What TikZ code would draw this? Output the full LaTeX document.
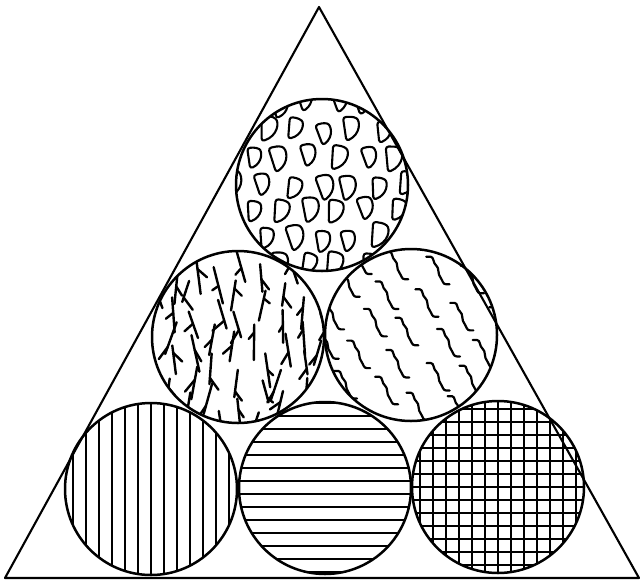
\documentclass[tikz,border=0pt]{standalone}
\usetikzlibrary{calc}
\begin{document}
\begin{tikzpicture}[x=1pt,y=-1pt,line join=round,line cap=round,
  outline/.style={line width=2.5pt},
  tri/.style={line width=2.1pt},
  dshape/.style={line width=2.1pt,rounded corners=3pt},
  crack/.style={line width=2.4pt},
  squig/.style={line width=2.2pt},
  hatch/.style={line width=2.3pt}]
\useasboundingbox (0,0) rectangle (642,584);
\coordinate (A) at (319,7);
\coordinate (B) at (5,578);
\coordinate (C) at (639,578);
\def\R{86}
\coordinate (T) at (322,185);
\coordinate (ML) at (238,337);
\coordinate (MR) at (411,335);
\coordinate (BL) at (151,489);
\coordinate (BC) at (325,488);
\coordinate (BR) at (498,487);
\pgfmathsetseed{12}
% ---- top circle: D shapes
\begin{scope}
\clip (T) circle (\R);
\foreach \i in {-4,...,4}{
 \foreach \j in {-4,...,4}{
  \pgfmathsetmacro\px{322+\i*29+abs(mod(\j,2))*14.5+rand*4}
  \pgfmathsetmacro\py{185+\j*27+rand*4}
  \pgfmathsetmacro\rot{rand*15}
  \pgfmathsetmacro\sc{1.15+rnd*0.3}
  \begin{scope}[shift={(\px,\py)},rotate=\rot,scale=\sc]
   \draw[dshape] (-5,-9) -- (3,-9) .. controls (8,-6) and (8,4) .. (-3,9) -- cycle;
  \end{scope}
 }}
\end{scope}
% ---- middle left: cracks
\begin{scope}
\clip (ML) circle (\R);
\foreach \i in {-4,...,4}{
 \foreach \j in {-3,...,3}{
  \pgfmathsetmacro\px{238+\i*22+rand*6}
  \pgfmathsetmacro\py{337+\j*28+abs(mod(\i,2))*14+rand*6}
  \pgfmathsetmacro\ang{90+rand*20}
  \pgfmathsetmacro\len{22+rnd*16}
  \pgfmathsetmacro\bang{rnd>0.5 ? 35+rnd*25 : 120+rnd*25}
  \pgfmathsetmacro\blen{7+rnd*9}
  \pgfmathsetmacro\bpos{0.2+rnd*0.6}
  \draw[crack] (\px,\py) -- ++(\ang:\len);
  \draw[crack] ($(\px,\py)+(\ang:\bpos*\len)$) -- ++(\bang:\blen);
 }}
\end{scope}
% ---- middle right: squiggles
\begin{scope}
\clip (MR) circle (\R);
\foreach \i in {-4,...,4}{
 \foreach \j in {-4,...,4}{
  \pgfmathsetmacro\px{411+\i*37-\j*13+rand*4}
  \pgfmathsetmacro\py{335+\j*30+\i*9+rand*4}
  \begin{scope}[shift={(\px,\py)},scale=1.1]
   \draw[squig] (-11,-13) -- (-7,-13) .. controls (-4,-13) and (-5,-7) .. (-2,-5)
     .. controls (1,-3) and (-1,3) .. (2,6) .. controls (4,9) and (4,12) .. (7,12) -- (10,12);
  \end{scope}
 }}
\end{scope}
% ---- bottom left: vertical lines
\begin{scope}
\clip (BL) circle (\R);
\foreach \x in {-91,-78,...,91}{
  \draw[hatch] ($(BL)+(\x,-95)$) -- ($(BL)+(\x,95)$);
}
\end{scope}
% ---- bottom centre: horizontal lines
\begin{scope}
\clip (BC) circle (\R);
\foreach \y in {-85,-72,...,91}{
  \draw[hatch] ($(BC)+(-95,\y)$) -- ($(BC)+(95,\y)$);
}
\end{scope}
% ---- bottom right: grid
\begin{scope}
\clip (BR) circle (\R);
\foreach \t in {-91,-78,...,91}{
  \draw[hatch] ($(BR)+(\t,-95)$) -- ($(BR)+(\t,95)$);
  \draw[hatch] ($(BR)+(-95,\t)$) -- ($(BR)+(95,\t)$);
}
\end{scope}
% ---- outlines
\foreach \c in {T,ML,MR,BL,BC,BR}{
  \draw[outline] (\c) circle (\R);
}
\draw[tri] (A) -- (B) -- (C) -- cycle;
\end{tikzpicture}
\end{document}
